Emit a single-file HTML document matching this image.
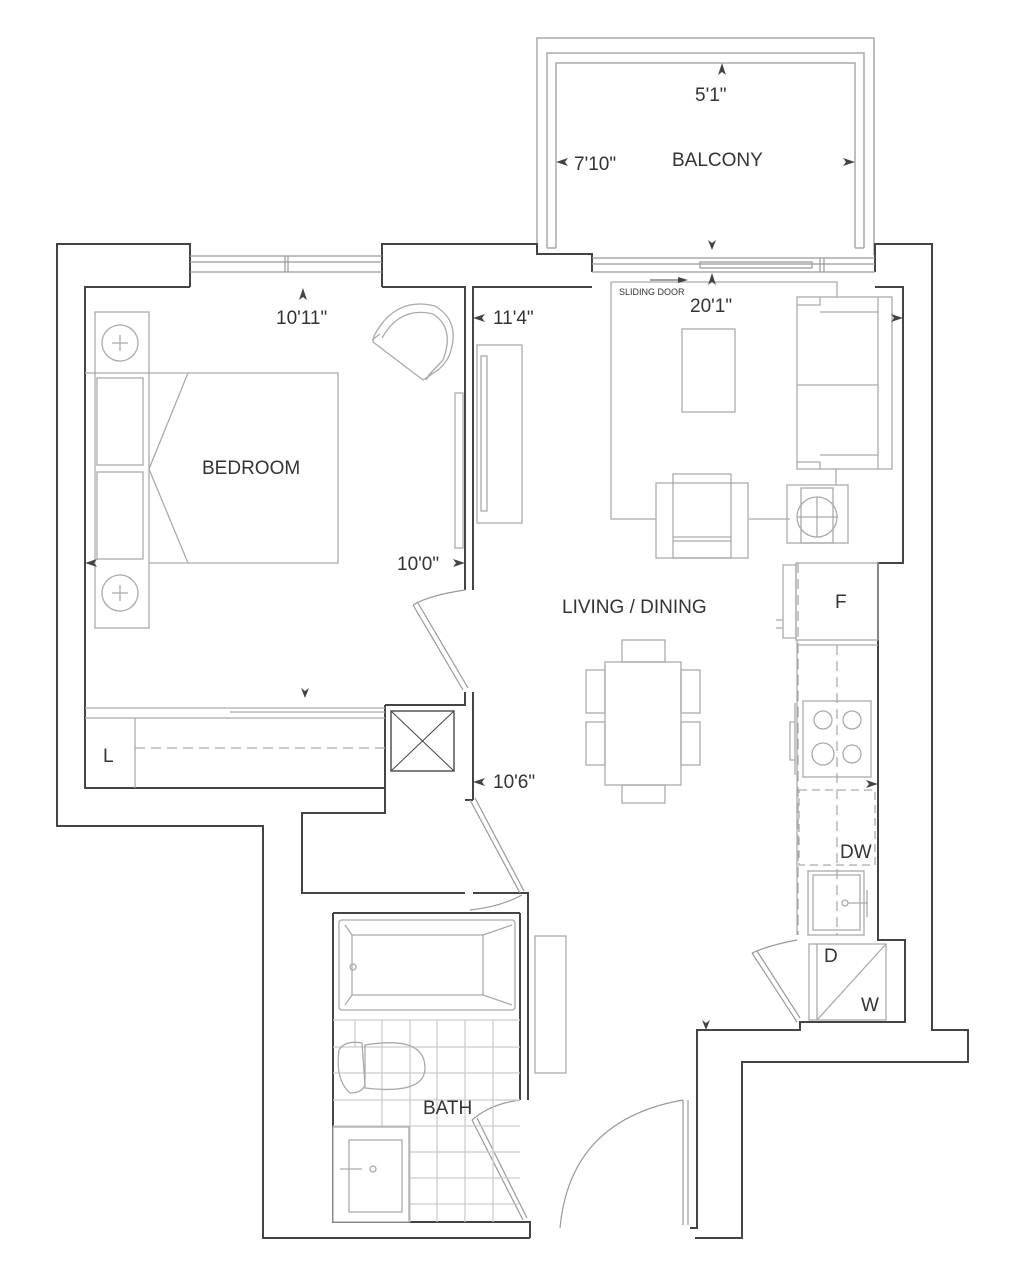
<!DOCTYPE html>
<html><head><meta charset="utf-8"><style>
html,body{margin:0;padding:0;background:#fff;}
svg{display:block;}
text{font-family:"Liberation Sans",sans-serif;fill:#333;}
</style></head><body>
<svg width="1024" height="1284" viewBox="0 0 1024 1284" xmlns="http://www.w3.org/2000/svg">
<g fill="none" stroke="#aaa" stroke-width="1.5">
<path d="M537,255 V38 H874 V255"/>
<path d="M547,248 V53 H864 V248"/>
<path d="M556,248 V63 H855 V248 M547,248 H556 M855,248 H864"/>
</g>
<g fill="none" stroke="#444" stroke-width="2">
<path d="M190,287 V244 H57 V826 H263 V1238 H530"/>
<path d="M382,287 V244 H537 V254 H592 V272"/>
<path d="M875,272 V244 H932 V1030 H968 V1062 H742 V1238 H695"/>
<path d="M190,287 H85 V788 H385"/>
<path d="M382,287 H465 V590"/>
<path d="M473,590 V287 H592"/>
<path d="M875,287 H903 V563 H878 V940 H905 V1022 H800 V1030 H697 V1228 H690"/>
<path d="M385,705 H465 V692 M385,705 V788 M385,788 V813 H302 V893 H465"/>
<path d="M473,692 V800 M465,800 H473"/>
<path d="M473,893 H528 V1100 M520,913 V1100"/>
<path d="M333,913 H520 M333,913 V1222 H520"/>
<path d="M520,1222 H530 V1238"/>
<rect x="391" y="711" width="63" height="60" stroke="#555" stroke-width="1.5"/>
<path d="M391,711 L454,771 M454,711 L391,771" stroke-width="1"/>
</g>
<g fill="none" stroke="#999" stroke-width="1.2">
<path d="M190,256 H382 M190,262 H382 M190,272 H382 M285,256 V272 M288,256 V272"/>
<path d="M592,258 H875 M592,264 H875 M592,272 H875 M820,258 V272 M824,258 V272 M700,262 H812 V268 H700 Z"/>
<path d="M465,590 Q430,595 413,605"/>
<path d="M413,605 L463,690 M418,603 L468,688"/>
<path d="M470,800 L520,893 M475,798 L524,891"/>
<path d="M470,910 Q500,907 522,895"/>
<path d="M520,1100 Q490,1104 472,1120 M472,1120 L523,1220 M477,1118 L527,1218"/>
<path d="M560,1228 Q570,1120 683,1100 M683,1100 V1225 M688,1100 V1225"/>
<path d="M797,940 Q770,945 752,953 M752,953 L797,1022 M757,951 L800,1018"/>
</g>
<g fill="none" stroke="#aaa" stroke-width="1.3">
<rect x="95" y="312" width="54" height="316"/>
<circle cx="120" cy="343" r="18"/><path d="M112,343 H128 M120,335 V351"/>
<circle cx="120" cy="593" r="18"/><path d="M112,593 H128 M120,585 V601"/>
<rect x="97" y="378" width="46" height="87"/><rect x="97" y="472" width="46" height="87"/>
<path d="M85,373 H338 V563 H149 M149,469 L188,373 M149,469 L188,563"/>
<!-- round chair -->
<path d="M374,336 Q395,296 435,306 Q462,322 449,356 Q444,367 432,374 L423,380 L373,342 Z"/>
<path d="M382,338 Q400,306 433,314 Q455,328 443,360 L428,376"/>
<path d="M372,340 L380,334 M426,380 L432,372"/>
<rect x="455" y="393" width="8" height="155"/>
<rect x="477" y="345" width="45" height="178"/><rect x="481" y="356" width="6" height="155"/>
<path d="M85,708 H385 M230,712 H385 M85,718 H385"/>
<path d="M135,748 H385" stroke-dasharray="10,6"/>
<path d="M135,718 V788"/>
<path d="M611,282 H837 V297 M611,282 V519 H656 M749,519 H790 M850,519"/>
<rect x="682" y="329" width="53" height="83"/>
<rect x="797" y="297" width="95" height="172"/>
<path d="M797,305 H820 V297 M797,462 H820 V469 M820,312 H878 V455 H820 M878,297 V469 M797,385 H878"/>
<path d="M836,469 V485"/>
<rect x="787" y="485" width="61" height="58"/><rect x="801" y="488" width="32" height="55"/>
<circle cx="817" cy="517" r="20"/><path d="M797,517 H838 M817,497 V537"/>
<rect x="656" y="483" width="92" height="75"/><rect x="673" y="474" width="58" height="84"/>
<path d="M673,537 H731 M673,541 H731"/>
<rect x="605" y="662" width="76" height="123"/>
<rect x="622" y="640" width="43" height="22"/><rect x="622" y="785" width="43" height="18"/>
<rect x="586" y="670" width="19" height="43"/><rect x="586" y="722" width="19" height="43"/>
<rect x="681" y="670" width="19" height="43"/><rect x="681" y="722" width="19" height="43"/>
<rect x="339" y="920" width="176" height="90" rx="3"/>
<path d="M345,925 L352,935 H483 L512,925 M345,1005 L352,995 H483 L512,1005 M352,935 V995 M483,935 V995"/>
<circle cx="353" cy="967" r="3"/>
<path d="M333,1020 H520 M333,1047 H520 M333,1073 H520 M333,1100 H520 M333,1126 H520 M333,1152 H520 M333,1178 H520 M333,1204 H520" stroke="#ccc"/>
<path d="M355,1020 V1047 M382,1020 V1222 M410,1020 V1222 M437,1020 V1222 M465,1020 V1222 M493,1020 V1222" stroke="#ccc"/>
<path d="M362,1043 Q345,1040 339,1050 Q335,1080 350,1093 Q362,1093 365,1085 Z"/>
<path d="M365,1045 Q425,1035 425,1068 Q425,1095 365,1088 Z"/>
<rect x="333" y="1127" width="76" height="95" fill="#fff"/>
<rect x="349" y="1140" width="53" height="72"/>
<circle cx="373" cy="1169" r="3"/><path d="M340,1169 H362"/>
<rect x="535" y="936" width="31" height="137"/>
<rect x="796" y="563" width="82" height="77"/>
<path d="M783,565 H796 V638 H783 Z M776,620 H783 V628 H776"/>
<path d="M797,640 V935 M797,645 H878"/>
<path d="M798,563 V935" stroke-dasharray="10,6"/>
<path d="M837,645 V935" stroke-dasharray="10,6"/>
<rect x="803" y="701" width="68" height="76"/>
<circle cx="823" cy="720" r="9"/><circle cx="852" cy="720" r="9"/>
<circle cx="823" cy="754" r="11"/><circle cx="852" cy="754" r="9"/>
<path d="M795,703 V775 M790,722 H795 V760 H790 Z"/>
<rect x="799" y="790" width="76" height="75" stroke-dasharray="8,5"/>
<rect x="808" y="871" width="56" height="64"/><rect x="813" y="875" width="47" height="55"/>
<circle cx="845" cy="903" r="3"/><path d="M848,903 H868 M867,890 V917"/>
<rect x="809" y="944" width="77" height="76"/>
<path d="M817,944 V1020 M817,1020 L886,944"/>
</g>
<g fill="#444">
<path d="M303,288 l-4,12 l4,-3 l4,3 Z"/>
<path d="M473,318 l12,-4 l-3,4 l3,4 Z"/>
<path d="M465,563 l-12,-4 l3,4 l-3,4 Z"/>
<path d="M85,563 l12,-4 l-3,4 l3,4 Z"/>
<path d="M305,698 l-4,-10 l4,3 l4,-3 Z"/>
<path d="M473,782 l12,-4 l-3,4 l3,4 Z"/>
<path d="M712,250 l-4,-10 l4,3 l4,-3 Z"/>
<path d="M712,273 l-4,12 l4,-3 l4,3 Z"/>
<path d="M903,318 l-12,-4 l3,4 l-3,4 Z"/>
<path d="M878,784 l-12,-4 l3,4 l-3,4 Z"/>
<path d="M706,1030 l-4,-10 l4,3 l4,-3 Z"/>
<path d="M722,63 l-4,12 l4,-3 l4,3 Z"/>
<path d="M556,162 l12,-4 l-3,4 l3,4 Z"/>
<path d="M855,162 l-12,-4 l3,4 l-3,4 Z"/>
<path d="M688,280 l-10,-3 v6 Z"/>
</g>
<path d="M650,280 H680" stroke="#444" stroke-width="1"/>
<g font-size="19">
<text x="695" y="101">5'1"</text>
<text x="574" y="170">7'10"</text>
<text x="672" y="166">BALCONY</text>
<text x="276" y="324">10'11"</text>
<text x="493" y="324">11'4"</text>
<text x="690" y="312">20'1"</text>
<text x="202" y="474">BEDROOM</text>
<text x="397" y="570">10'0"</text>
<text x="562" y="613">LIVING / DINING</text>
<text x="493" y="788">10'6"</text>
<text x="423" y="1114">BATH</text>
<text x="835" y="608">F</text>
<text x="840" y="858">DW</text>
<text x="824" y="962">D</text>
<text x="861" y="1011">W</text>
<text x="103" y="762">L</text>
</g>
<text x="619" y="295" font-size="9">SLIDING DOOR</text>
</svg>
</body></html>
